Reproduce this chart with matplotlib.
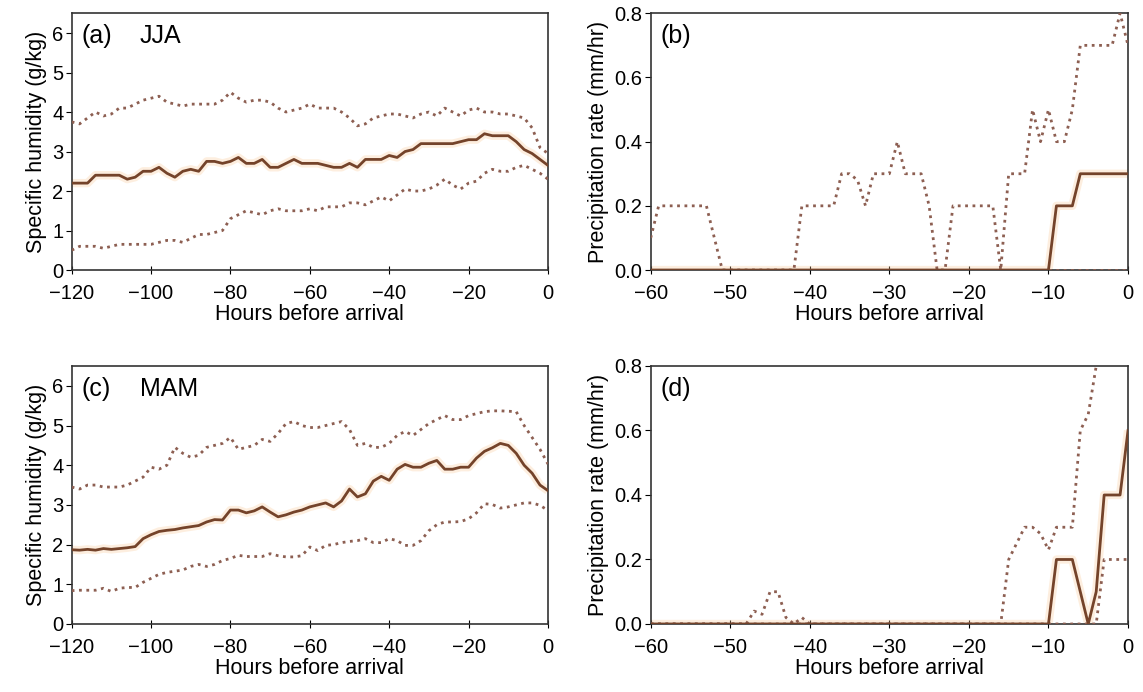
import numpy as np
import matplotlib
matplotlib.use("Agg")
import matplotlib.pyplot as plt

plt.rcParams['font.family'] = ['Liberation Sans', 'DejaVu Sans']

# hours before arrival
hrs_q = np.arange(-120, 1, 2)
hrs_p = np.arange(-60, 1, 1)

# (a) JJA specific humidity (g/kg)
jja_q_mid = [2.2, 2.2, 2.2, 2.4, 2.4, 2.4, 2.4, 2.3, 2.35, 2.5, 2.5, 2.6, 2.45, 2.35, 2.5, 2.55,
             2.5, 2.75, 2.75, 2.7, 2.75, 2.85, 2.7, 2.7, 2.8, 2.6, 2.6, 2.7, 2.8, 2.7, 2.7, 2.7,
             2.65, 2.6, 2.6, 2.7, 2.6, 2.8, 2.8, 2.8, 2.9, 2.85, 3.0, 3.05, 3.2, 3.2, 3.2, 3.2,
             3.2, 3.25, 3.3, 3.3, 3.45, 3.4, 3.4, 3.4, 3.25, 3.05, 2.95, 2.8, 2.65]
jja_q_hi = [3.75, 3.7, 3.85, 4.0, 3.9, 3.95, 4.1, 4.1, 4.2, 4.3, 4.35, 4.4, 4.25, 4.2, 4.15, 4.2,
            4.2, 4.2, 4.2, 4.3, 4.5, 4.35, 4.25, 4.3, 4.3, 4.25, 4.1, 4.0, 4.05, 4.1, 4.2, 4.1,
            4.1, 4.1, 4.0, 3.85, 3.65, 3.7, 3.85, 3.9, 3.95, 3.95, 3.9, 3.85, 3.95, 4.0, 3.9, 4.1,
            4.0, 3.9, 4.05, 4.1, 4.0, 4.0, 3.95, 3.95, 3.9, 3.85, 3.6, 3.1, 2.95]
jja_q_lo = [0.5, 0.6, 0.6, 0.6, 0.55, 0.6, 0.65, 0.65, 0.65, 0.65, 0.65, 0.7, 0.75, 0.75, 0.7, 0.8,
            0.9, 0.9, 0.95, 1.0, 1.3, 1.4, 1.5, 1.45, 1.4, 1.5, 1.55, 1.5, 1.5, 1.5, 1.55, 1.5,
            1.6, 1.6, 1.6, 1.7, 1.7, 1.65, 1.75, 1.85, 1.75, 1.9, 2.05, 2.0, 2.0, 2.05, 2.15, 2.3,
            2.15, 2.05, 2.2, 2.25, 2.45, 2.55, 2.5, 2.5, 2.6, 2.65, 2.55, 2.45, 2.3]

# (c) MAM specific humidity (g/kg)
mam_q_mid = [1.87, 1.86, 1.88, 1.86, 1.9, 1.88, 1.9, 1.92, 1.95, 2.15, 2.25, 2.33, 2.36, 2.38, 2.42, 2.45,
             2.48, 2.57, 2.63, 2.62, 2.87, 2.87, 2.8, 2.85, 2.95, 2.82, 2.7, 2.75, 2.82, 2.87, 2.95, 3.0,
             3.05, 2.95, 3.1, 3.4, 3.2, 3.28, 3.6, 3.72, 3.62, 3.9, 4.02, 3.95, 3.95, 4.05, 4.12, 3.9,
             3.9, 3.95, 3.95, 4.18, 4.35, 4.44, 4.55, 4.5, 4.3, 4.0, 3.8, 3.5, 3.36]
mam_q_hi = [3.45, 3.4, 3.5, 3.5, 3.45, 3.45, 3.45, 3.5, 3.6, 3.7, 3.95, 3.9, 4.0, 4.45, 4.3, 4.2,
            4.25, 4.45, 4.5, 4.55, 4.7, 4.4, 4.45, 4.5, 4.65, 4.6, 4.8, 5.05, 5.1, 5.0, 4.95, 4.95,
            5.0, 5.05, 5.1, 4.9, 4.5, 4.55, 4.45, 4.45, 4.55, 4.75, 4.85, 4.75, 4.9, 5.05, 5.15, 5.25,
            5.15, 5.15, 5.25, 5.3, 5.35, 5.37, 5.37, 5.36, 5.35, 5.0, 4.7, 4.4, 4.03]
mam_q_lo = [0.84, 0.85, 0.85, 0.85, 0.9, 0.82, 0.9, 0.92, 0.92, 1.05, 1.15, 1.25, 1.3, 1.33, 1.36, 1.45,
            1.5, 1.45, 1.5, 1.6, 1.65, 1.73, 1.7, 1.7, 1.7, 1.77, 1.72, 1.69, 1.69, 1.72, 1.94, 1.85,
            1.98, 2.0, 2.05, 2.08, 2.1, 2.15, 2.05, 2.05, 2.15, 2.1, 1.98, 1.98, 2.1, 2.35, 2.5, 2.57,
            2.57, 2.58, 2.65, 2.8, 3.03, 3.01, 2.92, 2.95, 3.0, 3.05, 3.05, 2.99, 2.86]

# (b) JJA precipitation rate (mm/hr)
jja_p_mid = [0.0] * 51 + [0.2, 0.2, 0.2, 0.3, 0.3, 0.3, 0.3, 0.3, 0.3, 0.3]
jja_p_hi = ([0.1, 0.2, 0.2, 0.2, 0.2, 0.2, 0.2, 0.2, 0.1, 0.0] + [0.0] * 9 +
            [0.2, 0.2, 0.2, 0.2, 0.2, 0.3, 0.3, 0.28, 0.2, 0.3, 0.3, 0.3, 0.4, 0.3, 0.3, 0.3,
             0.2, 0.0, 0.0, 0.2, 0.2, 0.2, 0.2, 0.2, 0.2, 0.0, 0.3, 0.3, 0.3, 0.5, 0.4, 0.5,
             0.4, 0.4, 0.5, 0.7, 0.7, 0.7, 0.7, 0.7, 0.8, 0.7])
jja_p_lo = [0.0] * 61

# (d) MAM precipitation rate (mm/hr)
mam_p_mid = [0.0] * 51 + [0.2, 0.2, 0.2, 0.1, 0.0, 0.1, 0.4, 0.4, 0.4, 0.6]
mam_p_hi = ([0.0] * 13 + [0.04, 0.03, 0.1, 0.1, 0.02, 0.0, 0.02] + [0.0] * 25 +
            [0.2, 0.25, 0.3, 0.3, 0.28, 0.23, 0.3, 0.3, 0.3, 0.6, 0.65, 0.8, 0.9, 1.0, 1.0, 1.1])
mam_p_lo = [0.0] * 57 + [0.2, 0.2, 0.2, 0.2]

c_mid = '#74432a'
c_glow = '#f9c996'
c_dot = '#8d5f52'

fig = plt.figure(figsize=(11.43, 6.92), dpi=100)
ax_a = fig.add_axes([0.0627, 0.6098, 0.4167, 0.3710])
ax_b = fig.add_axes([0.5693, 0.6098, 0.4176, 0.3710])
ax_c = fig.add_axes([0.0627, 0.0983, 0.4167, 0.3728])
ax_d = fig.add_axes([0.5693, 0.0983, 0.4176, 0.3728])


def draw(ax, x, mid, hi, lo):
    ax.plot(x, mid, color=c_glow, lw=6, alpha=0.3, solid_capstyle='butt', zorder=2)
    ax.plot(x, hi, color=c_dot, lw=2, ls=':', zorder=3)
    ax.plot(x, lo, color=c_dot, lw=2, ls=':', zorder=3)
    ax.plot(x, mid, color=c_mid, lw=2, zorder=4)


draw(ax_a, hrs_q, jja_q_mid, jja_q_hi, jja_q_lo)
draw(ax_c, hrs_q, mam_q_mid, mam_q_hi, mam_q_lo)
draw(ax_b, hrs_p, jja_p_mid, jja_p_hi, jja_p_lo)
draw(ax_d, hrs_p, mam_p_mid, mam_p_hi, mam_p_lo)

for ax in (ax_a, ax_c):
    ax.set_xlim(-120, 0)
    ax.set_ylim(0, 6.5)
    ax.set_xticks(range(-120, 1, 20))
    ax.set_yticks(range(0, 7))
    ax.set_ylabel('Specific humidity (g/kg)', fontsize=15.5, labelpad=4)
for ax in (ax_b, ax_d):
    ax.set_xlim(-60, 0)
    ax.set_ylim(0, 0.8)
    ax.set_xticks(range(-60, 1, 10))
    ax.set_yticks([0, 0.2, 0.4, 0.6, 0.8])
    ax.set_yticklabels(['0.0', '0.2', '0.4', '0.6', '0.8'])
    ax.set_ylabel('Precipitation rate (mm/hr)', fontsize=15.5, labelpad=4)

for ax in (ax_a, ax_b, ax_c, ax_d):
    ax.set_xlabel('Hours before arrival', fontsize=15.5, labelpad=1)
    ax.tick_params(axis='x', direction='inout', length=6, labelsize=14.5, pad=7)
    ax.tick_params(axis='y', direction='out', length=4, labelsize=14.5, pad=2)
    for s in ax.spines.values():
        s.set_linewidth(1.2)
        s.set_color('#333333')

for ax, tag, season in ((ax_a, '(a)', 'JJA'), (ax_b, '(b)', ''),
                        (ax_c, '(c)', 'MAM'), (ax_d, '(d)', '')):
    ax.text(0.02, 0.91, tag, transform=ax.transAxes, fontsize=18, va='center')
    ax.text(0.143, 0.91, season, transform=ax.transAxes, fontsize=18, va='center')

fig.savefig('out.png', dpi=100)
